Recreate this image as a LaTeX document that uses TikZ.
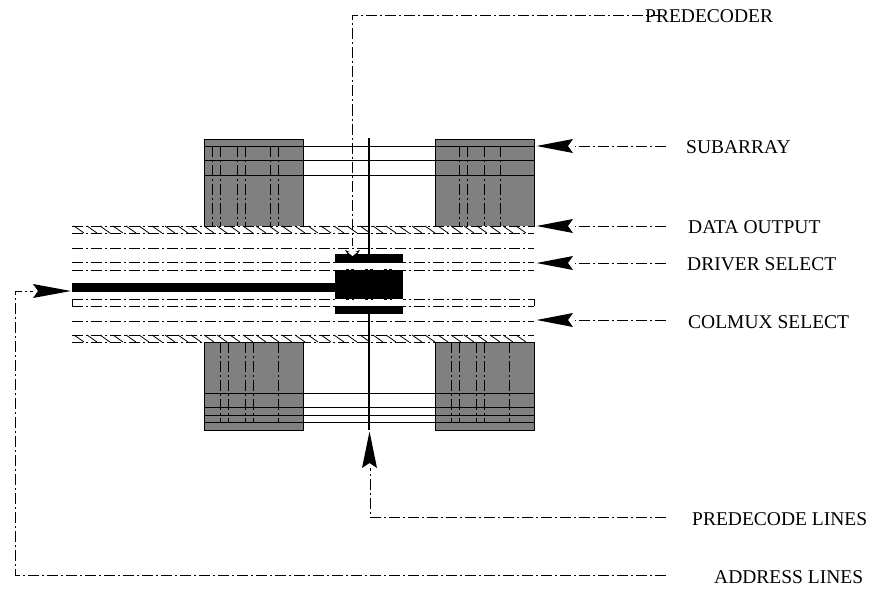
\documentclass[tikz,border=0pt]{standalone}
\usepackage{fontspec}
\setmainfont{Liberation Serif}
\tikzset{
 x=1pt,y=-1pt,
 dd/.style={line width=0.95pt,dash pattern=on 11pt off 3pt on 2pt off 3pt,black},
 vd/.style={line width=0.95pt,dash pattern=on 11pt off 3pt on 2pt off 3pt,black},
 lbl/.style={font=\fontsize{19.5}{22}\selectfont,inner sep=0pt,anchor=west},
 sub/.style={draw=black,line width=1.1pt,fill=black!50,inner sep=0pt,anchor=north west},
 thin line/.style={line width=0.9pt,black},
 hatchline/.style={line width=0.8pt,black},
}
\begin{document}
\begin{tikzpicture}
\useasboundingbox (0,0) rectangle (874,591);
% subarrays
\node[sub,minimum width=99pt,minimum height=87.5pt] (sa1) at (204,138.5) {};
\node[sub,minimum width=99pt,minimum height=87.5pt] (sa2) at (435,138.5) {};
\node[sub,minimum width=99pt,minimum height=88pt] (sa3) at (204,342) {};
\node[sub,minimum width=99pt,minimum height=88pt] (sa4) at (435,342) {};
% horizontal wordlines
\foreach \y in {146,160.5,175}{\draw[thin line] (204,\y) -- (534,\y);}
\foreach \y in {393,407.5,415,422}{\draw[thin line] (204,\y) -- (534,\y);}
% bitlines
\foreach \x in {212.5,220.5,237,245,270,278,459,467.5,484,500.5}{\draw[vd] (\x,146) -- (\x,226);}
\foreach \x in {220.5,228.5,245.5,253.5,278,451.5,459,476,484,509}{\draw[vd] (\x,342) -- (\x,422);}
% hatched data lines
\foreach \y in {226,335}{
 \fill[white] (72,\y) rectangle (534,\y+7);
 \draw[dd] (72,\y) -- (534,\y);
 \draw[dd] (72,\y+7) -- (534,\y+7);
 \foreach \x in {74,87,...,525}{\draw[hatchline] (\x,\y) -- (\x+10,\y+7);}
}
\draw[dd] (72,248) -- (534,248);
\draw[dd] (72,262) -- (534,262);
\draw[dd] (72,270) -- (534,270);
\draw[dd] (72,299) -- (534,299);
\draw[dd] (72,306) -- (534,306);
\draw[dd] (72,321) -- (534,321);
\draw[dd] (534,299) -- (534,306);
\draw[dd] (72,299) -- (72,306);
% driver blocks
\fill (335,254) rectangle (403,263);
\fill (335,269) rectangle (403,299);
\fill (335,306) rectangle (403,314);
\fill (72,283) rectangle (335,292);
\draw[white,line width=1pt,dash pattern=on 11pt off 3pt on 2pt off 3pt] (335,299.5) -- (403,299.5);
\draw[white,line width=1pt,dash pattern=on 11pt off 3pt on 2pt off 3pt] (335,269.5) -- (403,269.5);
% predecode vertical
\coordinate (pt) at (369,138);
\coordinate (pd) at (369,430);
\draw[line width=1.3pt] (pt) -- (369,254);
\draw[line width=1.3pt] (369,314) -- (pd);
% labels
\node[lbl] (predecoder) at (645,16.5) {PREDECODER};
\node[lbl] (l1) at (686,147) {SUBARRAY};
\node[lbl] (l2) at (688,227) {DATA OUTPUT};
\node[lbl] (l3) at (687,264) {DRIVER SELECT};
\node[lbl] (l4) at (688,322) {COLMUX SELECT};
\node[lbl] (l5) at (692,519) {PREDECODE LINES};
\node[lbl] (l6) at (714,577) {ADDRESS LINES};
% Predecoder
\coordinate (pe) at (662,15);
\coordinate (pc) at (352.5,15);
\coordinate (pa) at (352.5,246);
\draw[dd] (pe) -- (pc) -- (pa);
\fill (345,250) -- (352.5,253) -- (360,250) -- (352.5,262) -- cycle;
\fill[white] (347.5,252) -- (357.5,252) -- (352.5,256) -- cycle;
% arrows right
\foreach \y/\n in {146/a,226/b,263/c,320/d}{
 \coordinate (e\n) at (666,\y);
 \coordinate (h\n) at (575,\y);
 \draw[dd] (e\n) -- (h\n);
 \fill (536.5,\y) -- (573,\y-7) -- (568,\y) -- (573,\y+7) -- cycle;
}
% predecode lines arrow
\coordinate (e5) at (666,517);
\draw[dd] (e5) -- (370,517) -- (370,468);
\fill (369.5,431.5) -- (377,468) -- (369.5,463) -- (362,468) -- cycle;
% address
\coordinate (e6) at (666,575);
\draw[dd] (e6) -- (15,575) -- (15,291) -- (33,291);
\fill (71,291) -- (33,284) -- (38,291) -- (33,298) -- cycle;
\end{tikzpicture}
\end{document}
